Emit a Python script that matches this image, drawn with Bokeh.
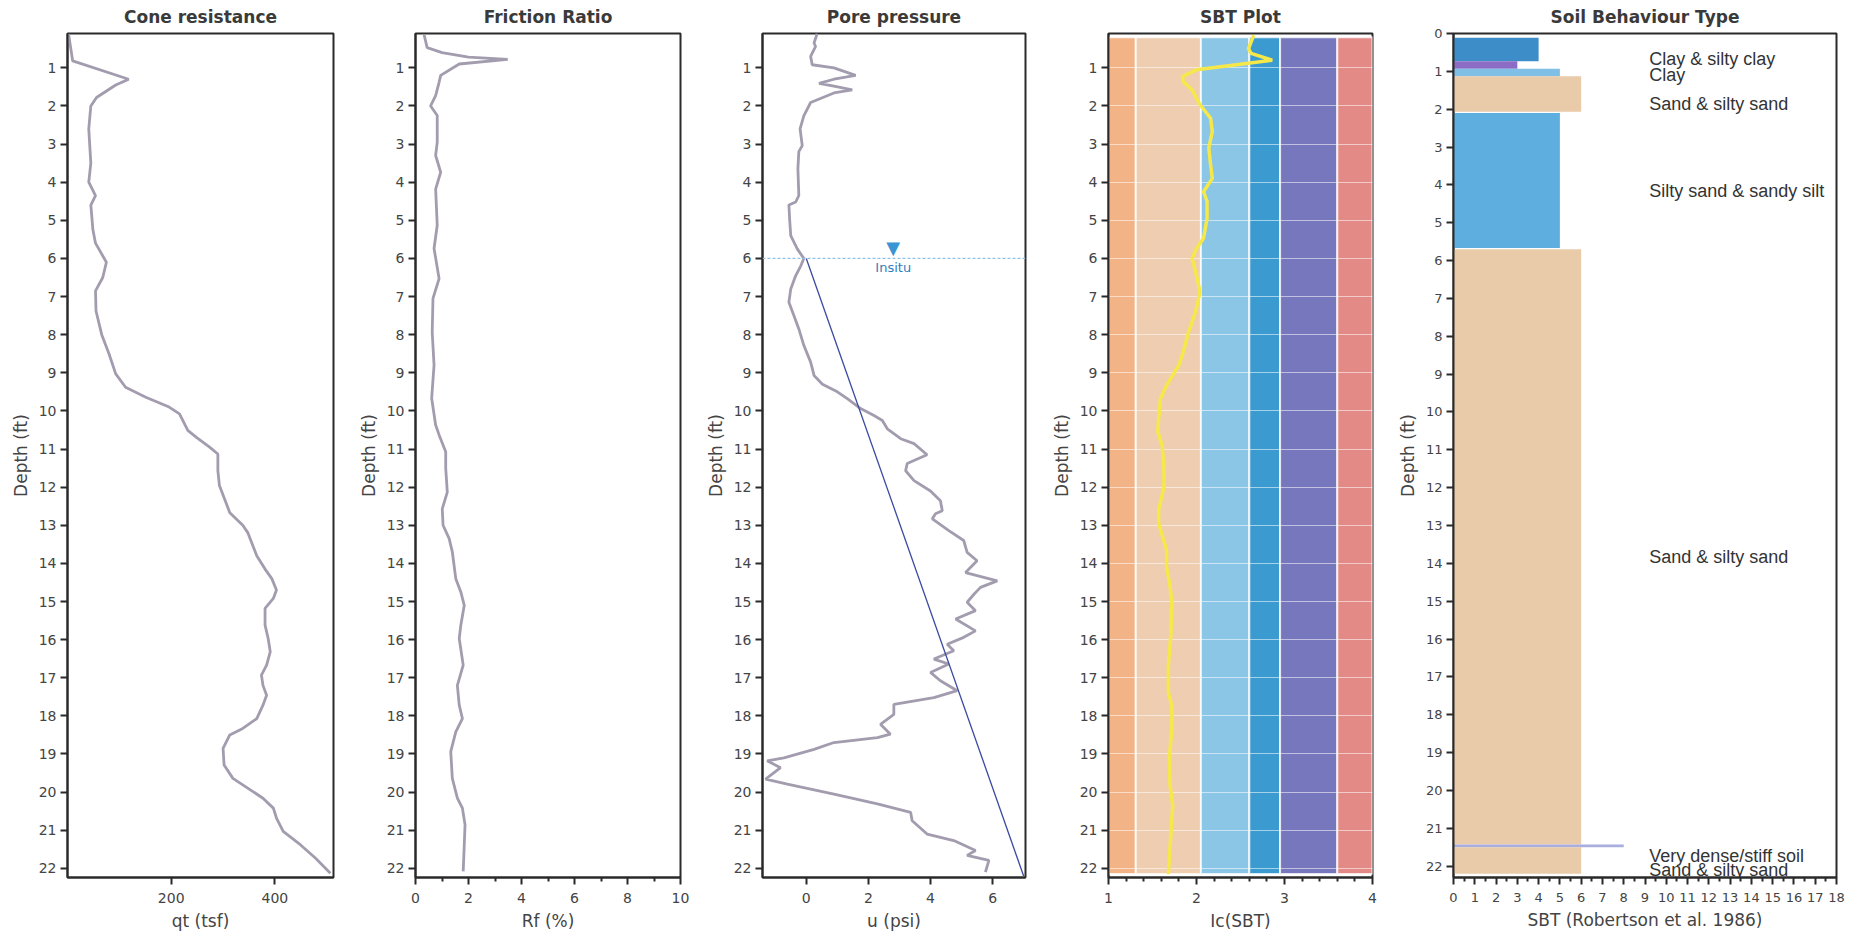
from bokeh.plotting import figure
from bokeh.layouts import row
from bokeh.models import Range1d, FixedTicker, Span
from bokeh.core.properties import value
from bokeh.embed import file_html
from bokeh.resources import INLINE

# ---------------- data ----------------
qt_depth = [0.11, 0.82, 1.30, 1.45, 1.78, 2.0, 2.6, 3.5, 4.0, 4.35, 4.6, 5.25, 5.6, 6.1, 6.5,
            6.85, 7.38, 8.0, 8.5, 9.03, 9.38, 9.64, 9.9, 10.08, 10.51, 10.69, 10.95, 11.13, 11.57, 11.96,
            12.67, 13.0, 13.2, 13.8, 14.15, 14.4, 14.7, 14.92, 15.18, 15.62, 15.97, 16.32, 16.67, 16.93, 17.2,
            17.46, 17.72, 18.07, 18.33, 18.5, 18.85, 19.29, 19.64, 19.81, 20.16, 20.42, 20.68, 21.03, 21.38, 21.73,
            22.13]
qt = [2, 10, 118, 93, 56, 45, 41, 45, 41, 54, 45, 49, 54, 75, 68,
      54, 55, 66, 80, 93, 112, 151, 196, 216, 232, 248, 274, 290, 290, 293,
      313, 338, 348, 365, 381, 394, 403, 397, 381, 381, 387, 391, 384, 374, 377,
      384, 377, 365, 338, 313, 300, 302, 319, 338, 377, 397, 403, 416, 449, 478,
      507]

rf_depth = [0.12, 0.47, 0.6, 0.72, 0.78, 0.9, 1.2, 1.38, 1.73, 2.0, 2.25, 2.95, 3.3, 3.74, 4.18,
            5.13, 5.74, 6.53, 7.05, 7.93, 8.8, 9.67, 10.37, 10.63, 11.07, 11.5, 12.13, 12.57, 13.0, 13.35,
            13.7, 14.4, 14.75, 15.1, 15.62, 15.97, 16.67, 17.2, 17.72, 18.07, 18.42, 18.94, 19.64, 20.16, 20.42,
            20.86, 22.08]
rf = [0.32, 0.44, 1.0, 2.0, 3.48, 1.65, 0.95, 0.89, 0.76, 0.57, 0.82, 0.82, 0.76, 0.95, 0.76,
      0.82, 0.70, 0.89, 0.66, 0.63, 0.70, 0.61, 0.76, 0.89, 1.14, 1.14, 1.2, 1.01, 1.04, 1.27,
      1.39, 1.52, 1.71, 1.84, 1.71, 1.65, 1.8, 1.58, 1.65, 1.77, 1.52, 1.33, 1.39, 1.58, 1.77,
      1.87, 1.8]

u_depth = [0.1, 0.35, 0.44, 0.7, 0.92, 1.0, 1.2, 1.3, 1.41, 1.48, 1.58, 1.66, 1.91, 2.26, 2.6,
           3.04, 3.2, 3.65, 4.35, 4.52, 4.6, 5.05, 5.4, 5.75, 6.0, 6.2, 6.45, 6.8, 7.15, 7.5,
           7.85, 8.28, 8.72, 9.07, 9.3, 9.5, 9.68, 9.94, 10.12, 10.25, 10.47, 10.73, 10.86, 11.15, 11.38,
           11.57, 11.83, 12.1, 12.36, 12.62, 12.7, 12.83, 13.14, 13.4, 13.71, 13.93, 14.24, 14.46, 14.63, 14.81,
           15.02, 15.24, 15.46, 15.77, 15.94, 16.12, 16.29, 16.51, 16.64, 16.86, 17.08, 17.34, 17.52, 17.7, 17.96,
           18.22, 18.48, 18.57, 18.7, 18.88, 19.1, 19.18, 19.36, 19.66, 19.79, 20.05, 20.31, 20.53, 20.75, 21.1,
           21.27, 21.53, 21.66, 21.79, 22.1]
u = [0.35, 0.25, 0.3, 0.14, 0.19, 0.89, 1.59, 0.89, 0.41, 0.89, 1.48, 0.89, 0.14, -0.08, -0.2,
     -0.13, -0.24, -0.27, -0.24, -0.34, -0.56, -0.53, -0.5, -0.29, -0.08, -0.18, -0.34, -0.5, -0.56, -0.4,
     -0.24, -0.08, 0.14, 0.25, 0.52, 1.0, 1.32, 1.75, 2.18, 2.45, 2.61, 3.04, 3.47, 3.89, 3.25,
     3.2, 3.47, 4.0, 4.32, 4.38, 4.16, 4.06, 4.59, 5.07, 5.18, 5.5, 5.13, 6.15, 5.61, 5.4,
     5.18, 5.45, 4.81, 5.45, 5.07, 4.54, 4.75, 4.11, 4.59, 4.0, 4.32, 4.86, 4.11, 2.82, 2.82,
     2.39, 2.71, 2.29, 0.89, 0.25, -0.72, -1.26, -0.83, -1.31, -0.61, 0.89, 2.29, 3.36, 3.41, 3.89,
     4.75, 5.45, 5.18, 5.88, 5.77]

water_table_depth = 6.0
water_marker_u = 2.8
hydro_depth = [6.0, 22.2]
hydro_u = [0.0, 7.0]

ic_depth = [0.15, 0.5, 0.62, 0.8, 1.05, 1.23, 1.36, 1.58, 1.97, 2.32, 2.67, 3.1, 3.54, 3.9, 4.25,
            4.5, 4.95, 5.47, 5.74, 6.0, 6.44, 6.88, 7.4, 7.93, 8.45, 8.8, 9.33, 9.68, 10.2, 10.55,
            10.9, 11.5, 12.0, 12.6, 12.95, 13.65, 14.1, 14.6, 15.03, 15.82, 16.69, 17.39, 17.74, 18.35, 19.14,
            19.84, 20.36, 21.06, 22.15]
ic = [2.65, 2.59, 2.62, 2.86, 2.0, 1.84, 1.85, 1.95, 2.04, 2.16, 2.18, 2.14, 2.16, 2.18, 2.08,
      2.12, 2.12, 2.08, 2.0, 1.95, 2.0, 2.04, 1.99, 1.91, 1.85, 1.8, 1.66, 1.59, 1.57, 1.56,
      1.61, 1.63, 1.63, 1.57, 1.57, 1.66, 1.66, 1.7, 1.72, 1.71, 1.68, 1.68, 1.72, 1.72, 1.69,
      1.7, 1.73, 1.71, 1.68]

ic_bounds = [1.0, 1.31, 2.05, 2.60, 2.95, 3.60, 4.0]
ic_zone_colors = ["#f2b387", "#efcdb0", "#8cc6e6", "#3b9ad0", "#7777bd", "#e38a86"]
band_top_depth = 0.2
band_bottom_depth = 22.15

sbt_top = [0.11, 0.73, 0.93, 1.13, 2.10, 5.70, 21.43, 21.50]
sbt_bottom = [0.73, 0.93, 1.13, 2.07, 5.67, 21.43, 21.50, 22.20]
sbt_zone = [4, 3, 5, 6, 5, 6, 8, 6]
sbt_colors = ["#3d8ec8", "#8c6cc4", "#80c0e6", "#e9caa9", "#5eaee0", "#e9caa9", "#a9aedf", "#e9caa9"]
sbt_labels = ["Clay & silty clay", "Clay", "", "Sand & silty sand", "Silty sand & sandy silt",
              "Sand & silty sand", "Very dense/stiff soil", "Sand & silty sand"]

depth_ticks = list(range(1, 23))
depth_ticks_sbt = list(range(0, 23))

# ---------------- styling helpers ----------------
LINE = "#a39cae"
TXT = "#3a3a3a"
FRAME_H = 844


def make_fig(title, xr, yr, fw, left, right, xlabel, xticks, minor=None, yticks=depth_ticks):
    p = figure(frame_width=fw, frame_height=FRAME_H, x_range=xr, y_range=yr,
               output_backend="svg", toolbar_location=None, title=title,
               min_border_left=left, min_border_right=right,
               min_border_top=33, min_border_bottom=57)
    p.title.text_font = "DejaVu Sans"
    p.title.text_font_style = "bold"
    p.title.text_font_size = "17px"
    p.title.text_color = TXT
    p.title.align = "center"
    p.title.vertical_align = "top"
    p.title.standoff = 10
    p.outline_line_color = "#2a2a2a"
    p.outline_line_width = 2
    p.outline_line_alpha = 1
    p.xgrid.visible = False
    p.ygrid.visible = False
    p.background_fill_color = "white"
    p.border_fill_color = "white"
    for ax in (p.xaxis[0], p.yaxis[0]):
        ax.axis_line_color = "#2a2a2a"
        ax.axis_line_width = 2
        ax.major_tick_line_color = "#2a2a2a"
        ax.major_tick_line_width = 2
        ax.major_tick_out = 7
        ax.major_tick_in = 0
        ax.minor_tick_out = 4
        ax.minor_tick_in = 0
        ax.minor_tick_line_color = "#2a2a2a"
        ax.minor_tick_line_width = 2
        ax.major_label_text_font = "DejaVu Sans"
        ax.major_label_text_font_size = "14px"
        ax.major_label_text_color = "#444444"
        ax.axis_label_text_font = "DejaVu Sans"
        ax.axis_label_text_font_size = "17px"
        ax.axis_label_text_font_style = "normal"
        ax.axis_label_text_color = "#444444"
    p.xaxis.axis_label = xlabel
    p.yaxis.axis_label = "Depth (ft)"
    p.xaxis.major_label_standoff = 8
    p.xaxis.axis_label_standoff = 5
    p.yaxis.major_label_standoff = 4
    p.yaxis.axis_label_standoff = 5
    p.xaxis.ticker = FixedTicker(ticks=xticks, minor_ticks=minor or [])
    p.yaxis.ticker = FixedTicker(ticks=yticks, minor_ticks=[])
    if not minor:
        p.xaxis.minor_tick_line_color = None
    p.yaxis.minor_tick_line_color = None
    return p


# ---------------- panel 1: cone resistance ----------------
p1 = make_fig("Cone resistance", Range1d(0, 513), Range1d(22.24, 0.1), 266, 67, 20,
              "qt (tsf)", [200, 400])
p1.line(qt, qt_depth, line_color=LINE, line_width=2.8)

# ---------------- panel 2: friction ratio ----------------
p2 = make_fig("Friction Ratio", Range1d(0, 10), Range1d(22.24, 0.1), 265, 62, 20,
              "Rf (%)", [0, 2, 4, 6, 8, 10], minor=[1, 3, 5, 7, 9])
p2.line(rf, rf_depth, line_color=LINE, line_width=2.8)

# ---------------- panel 3: pore pressure ----------------
p3 = make_fig("Pore pressure", Range1d(-1.41, 7.06), Range1d(22.24, 0.1), 263, 62, 21,
              "u (psi)", [0, 2, 4, 6])
p3.add_layout(Span(location=water_table_depth, dimension="width", line_color="#8ec0e8",
                   line_dash="3 2", line_width=1.2))
p3.line(u, u_depth, line_color=LINE, line_width=2.8)
p3.line(hydro_u, hydro_depth, line_color="#3a4aa0", line_width=1.3)
p3.text(x=[water_marker_u], y=[water_table_depth], text=["▼"], text_align="center",
        text_baseline="bottom", text_color="#3a95d4", text_font_size="18px",
        text_font=value("DejaVu Sans"))
p3.text(x=[water_marker_u], y=[water_table_depth], text=["Insitu"], text_align="center",
        text_baseline="top", text_color="#2f7fc0", text_font_size="13px",
        text_font=value("DejaVu Sans"), y_offset=2)

# ---------------- panel 4: SBT plot ----------------
p4 = make_fig("SBT Plot", Range1d(1, 4), Range1d(22.24, 0.1), 264, 62, 19,
              "Ic(SBT)", [1, 2, 3, 4],
              minor=[1.2, 1.4, 1.6, 1.8, 2.2, 2.4, 2.6, 2.8, 3.2, 3.4, 3.6, 3.8])
p4.quad(left=ic_bounds[:-1], right=ic_bounds[1:], top=band_top_depth, bottom=band_bottom_depth,
        fill_color=ic_zone_colors, line_color="white", line_width=2, line_alpha=0.8)
p4.hspan(y=depth_ticks, line_color="white", line_alpha=0.55, line_width=1.2)
p4.line(ic, ic_depth, line_color="#f7e84a", line_width=3.5)

# ---------------- panel 5: soil behaviour type ----------------
p5 = make_fig("Soil Behaviour Type", Range1d(0, 18), Range1d(22.3, 0), 383, 62, 16,
              "SBT (Robertson et al. 1986)", list(range(0, 19)),
              minor=[i + 0.5 for i in range(18)], yticks=depth_ticks_sbt)
p5.xaxis.major_label_text_font_size = "13px"
p5.yaxis.major_label_text_font_size = "13px"
p5.quad(left=0, right=sbt_zone, top=sbt_top, bottom=sbt_bottom,
        fill_color=sbt_colors, line_color=None)
mid = [(a + b) / 2 for a, b in zip(sbt_top, sbt_bottom)]
p5.text(x=[9.2] * len(mid), y=mid, text=sbt_labels, text_align="left", text_baseline="top",
        text_color="#333333", text_font_size="18px", text_font=value("Liberation Sans"))

layout = row(p1, p2, p3, p4, p5, spacing=0)
open("out.html", "w").write(file_html(layout, INLINE))
